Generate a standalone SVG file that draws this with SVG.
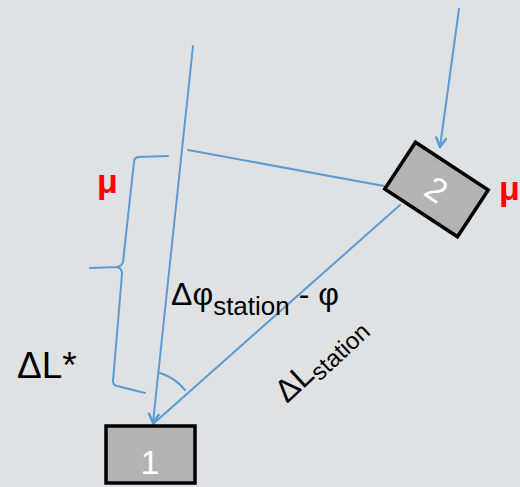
<svg xmlns="http://www.w3.org/2000/svg" width="520" height="487" viewBox="0 0 520 487">
<defs>
<style>
.ln{fill:none;stroke:#5b9bd5;stroke-width:2;stroke-linecap:round;stroke-linejoin:round}
.box{fill:#b3b3b3;stroke:#000;stroke-width:3.5}
.num{fill:#fff;font-family:"Liberation Sans",Arial,sans-serif;font-size:34px;text-anchor:middle}
.lbl{fill:#000;font-family:"Liberation Sans",Arial,sans-serif}
.mu{fill:#ff0000;font-family:"Liberation Sans",Arial,sans-serif;font-size:34px;font-weight:bold}
</style>
<marker id="arr" viewBox="0 0 12 12" refX="10" refY="6" markerWidth="12" markerHeight="12" markerUnits="userSpaceOnUse" orient="auto">
<path d="M1,1 L10,6 L1,11" fill="none" stroke="#5b9bd5" stroke-width="2.5" stroke-linecap="round" stroke-linejoin="round"/>
</marker>
</defs>
<rect width="520" height="487" fill="#e0e1e3"/>
<g id="connectors">
<path class="ln" d="M193,46 L153,423" marker-end="url(#arr)"/>
<path class="ln" d="M459,9 L440,147" marker-end="url(#arr)"/>
<path class="ln" d="M188,150 L384,186"/>
<path class="ln" d="M400,205 L153,424"/>
<path class="ln" d="M168,156 L138,157 Q134,158 134,162 L123,262 Q122,266 117,267 L90,268 M117,267 Q122,268 122,274 L113,381 Q113,385 117,386 L145,393"/>
<path class="ln" d="M160,373 A52,52 0 0 1 185,390"/>
</g>
<g id="node1">
<rect class="box" x="106" y="426" width="89" height="57"/>
<text class="num" x="150" y="474">1</text>
</g>
<g id="node2" transform="translate(436.5,189.5) rotate(33.3)">
<rect class="box" x="-43.5" y="-28" width="87" height="56"/>
<text class="num" x="0" y="12">2</text>
</g>
<g id="labels">
<text class="mu" x="97" y="193">μ</text>
<text class="mu" x="499" y="200">μ</text>
<text class="lbl" x="17" y="378" font-size="37">ΔL*</text>
<text class="lbl" x="171" y="305" font-size="32">Δφ<tspan font-size="26" dy="10">station</tspan><tspan dy="-10"> - φ</tspan></text>
<text class="lbl" transform="translate(287,404) rotate(-43)" font-size="32">ΔL<tspan font-size="24" dy="6">station</tspan></text>
</g>
</svg>
